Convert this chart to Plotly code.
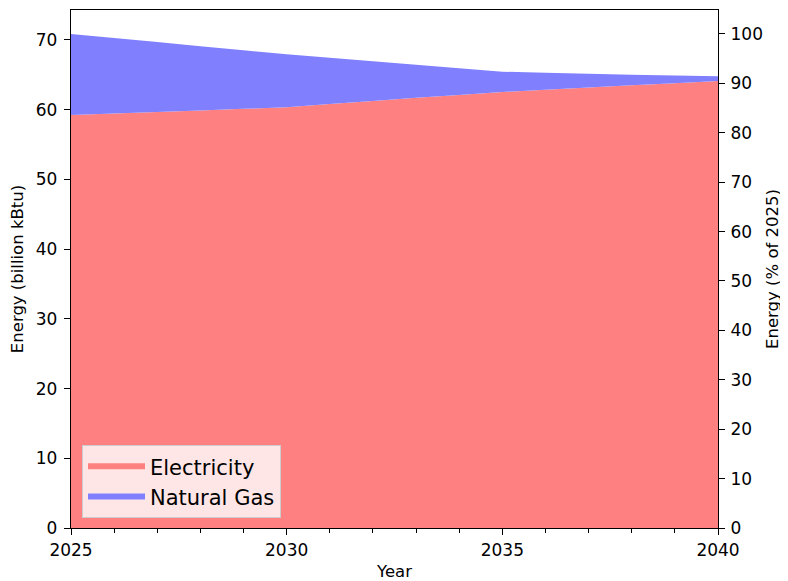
import plotly.graph_objects as go

years = list(range(2025, 2041))
electricity = [59.24, 59.46, 59.68, 59.90, 60.12, 60.35, 60.80, 61.25, 61.70, 62.10,
               62.55, 62.87, 63.18, 63.50, 63.80, 64.12]
total = [70.87, 70.29, 69.70, 69.10, 68.52, 67.95, 67.45, 66.95, 66.45, 65.95,
         65.45, 65.30, 65.15, 65.00, 64.90, 64.80]
natural_gas = [round(t - e, 3) for t, e in zip(total, electricity)]
pct_of_2025 = [t / total[0] * 100 for t in total]

left_max = 74.3
right_max = left_max / total[0] * 100

font = "DejaVu Sans"
fig = go.Figure()
fig.add_trace(go.Scatter(x=years, y=electricity, name="Electricity", stackgroup="one",
                         mode="none", fillcolor="rgb(255,128,128)", legendgroup="e"))
fig.add_trace(go.Scatter(x=years, y=natural_gas, name="Natural Gas", stackgroup="one",
                         mode="none", fillcolor="rgb(128,128,255)", legendgroup="g"))
fig.add_trace(go.Scatter(x=years, y=pct_of_2025, yaxis="y2", mode="lines",
                         line=dict(width=0), opacity=0, showlegend=False, hoverinfo="skip"))

axis_common = dict(showgrid=False, zeroline=False, showline=True, linecolor="black",
                   linewidth=1.3, ticks="outside", ticklen=6, tickwidth=1.3,
                   tickcolor="black", automargin=False,
                   tickfont=dict(family=font, size=17, color="black"),
                   title_font=dict(family=font, size=16.5, color="black"))

fig.update_layout(
    width=780, height=573,
    margin=dict(l=63, r=70, t=2, b=53),
    plot_bgcolor="white", paper_bgcolor="white",
    font=dict(family=font, color="black"),
    xaxis=dict(range=[2025, 2040], tickvals=[2025, 2030, 2035, 2040], mirror=True,
               title=dict(text="Year", standoff=9),
               minor=dict(dtick=1, tick0=2025, ticks="outside", ticklen=3.5,
                          tickwidth=1.1, tickcolor="black"),
               **axis_common),
    yaxis=dict(range=[0, left_max], tickvals=list(range(0, 80, 10)), mirror=True,
               ticklabelstandoff=3,
               title=dict(text="Energy (billion kBtu)", standoff=9), **axis_common),
    yaxis2=dict(range=[0, right_max], tickvals=list(range(0, 110, 10)), overlaying="y",
                side="right", anchor="x", ticklabelstandoff=2,
                title=dict(text="Energy (% of 2025)", standoff=4), **axis_common),
    legend=dict(x=0.017, y=0.019, xanchor="left", yanchor="bottom",
                bgcolor="rgba(255,255,255,0.8)", bordercolor="#cccccc", borderwidth=1,
                font=dict(family=font, size=21, color="black"), traceorder="normal",
                itemwidth=57, tracegroupgap=4),
    showlegend=True,
)

fig.write_html("out.html")
